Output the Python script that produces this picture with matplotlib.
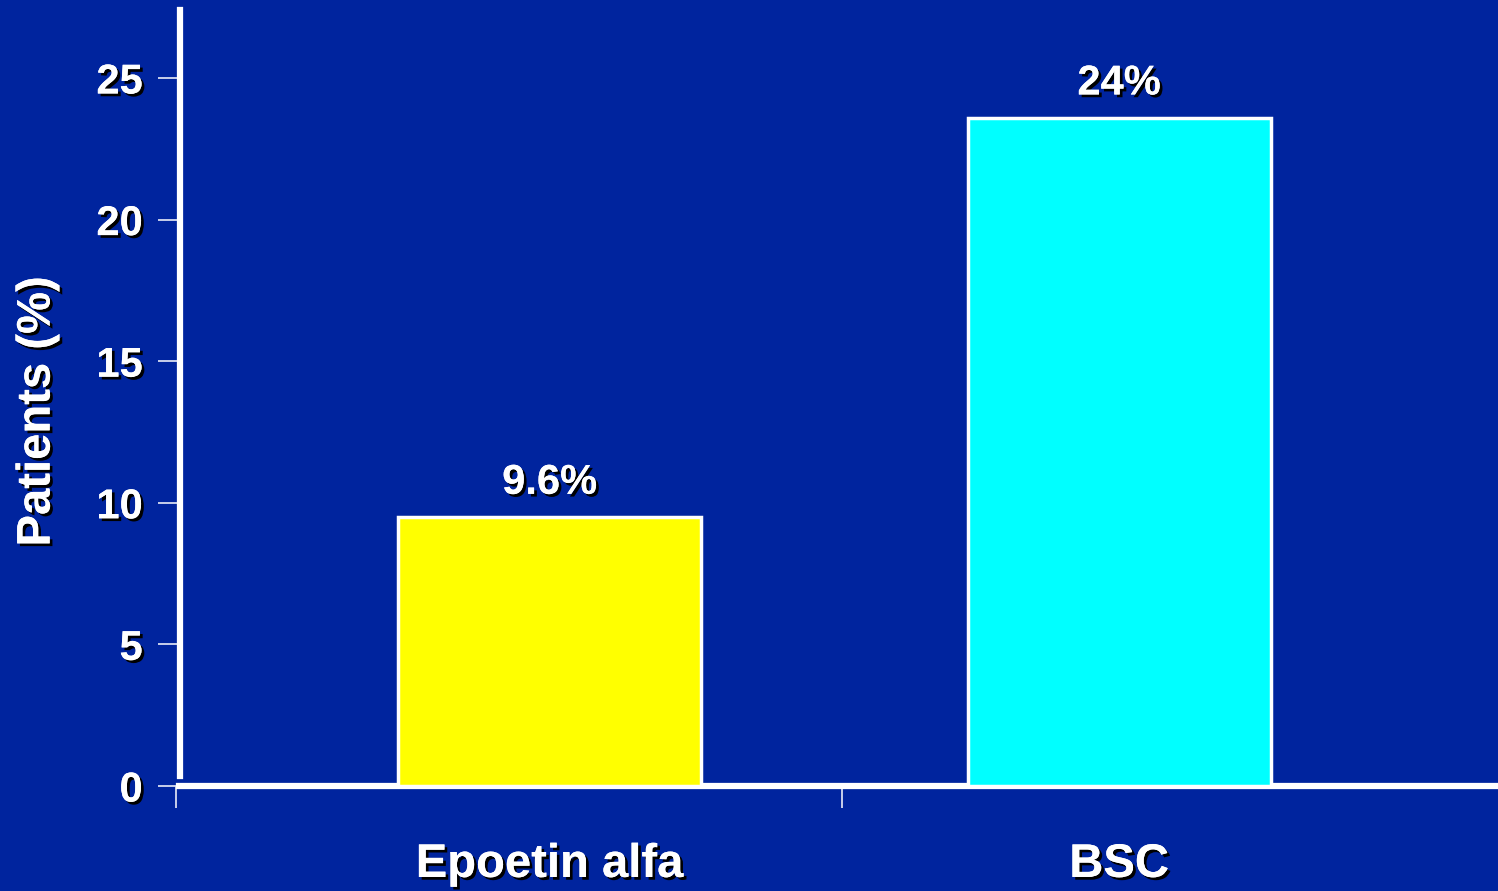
import numpy as np
import matplotlib
matplotlib.use("Agg")
import matplotlib.pyplot as plt
import matplotlib.patheffects as pe

# data
categories = ["Epoetin alfa", "BSC"]
values = [9.5, 23.6]
value_labels = ["9.6%", "24%"]
bar_colors = ["#FFFF00", "#00FFFF"]

BG = "#00249E"
plt.rcParams.update({
    "font.family": ["Liberation Sans", "DejaVu Sans"],
    "font.weight": "bold",
})

shadow = [pe.withSimplePatchShadow(offset=(2, -2), shadow_rgbFace="black", alpha=1.0),
          pe.Normal()]

fig = plt.figure(figsize=(14.98, 8.91), dpi=100, facecolor=BG)
ax = fig.add_axes([176 / 1498, 105 / 891, 1 - 176 / 1498, 776 / 891])
ax.set_facecolor(BG)

# layout of the bars along the x axis (category slots are 0-1 and 1-2)
xpos = [0.561, 1.416]
ax.bar(xpos, values, width=0.455, color=bar_colors, edgecolor="white",
       linewidth=2.5, zorder=3)

for x, v, lab in zip(xpos, values, value_labels):
    ax.text(x, v + 0.5, lab, ha="center", va="bottom", color="white",
            fontsize=30, fontweight="bold", path_effects=shadow, zorder=4)

ax.set_xlim(0, 1.985)
ax.set_ylim(0, 27.4)

# spines
for s in ["top", "right"]:
    ax.spines[s].set_visible(False)
ax.spines["left"].set_color("white")
ax.spines["left"].set_linewidth(4.5)
ax.spines["left"].set_bounds(0.35, 27.4)
ax.spines["left"].set_position(("outward", -3))
ax.spines["bottom"].set_color("white")
ax.spines["bottom"].set_linewidth(4.5)
ax.spines["bottom"].set_bounds(0.004, 1.985)

# y ticks
ax.set_yticks([0, 5, 10, 15, 20, 25])
ax.tick_params(axis="y", direction="out", length=16, width=1.3, color="#D8DCF0",
               pad=11, labelsize=30, labelcolor="white")
for t in ax.get_yticklabels():
    t.set_fontweight("bold")
    t.set_path_effects(shadow)

# x: category labels under the bars, thin ticks at the slot boundaries
ax.set_xticks(xpos)
ax.set_xticklabels(categories)
ax.tick_params(axis="x", which="major", length=0, pad=41, labelsize=34,
               labelcolor="white")
for t in ax.get_xticklabels():
    t.set_fontweight("bold")
    t.set_path_effects(shadow)
ax.set_xticks([0, 1], minor=True)
ax.tick_params(axis="x", which="minor", direction="out", length=16, width=1.3,
               color="#D8DCF0")

ax.set_ylabel("Patients (%)", color="white", fontsize=34, fontweight="bold",
              path_effects=shadow)
ax.yaxis.set_label_coords(-0.088, 0.483)

fig.savefig("out.png", dpi=100, facecolor=BG)
